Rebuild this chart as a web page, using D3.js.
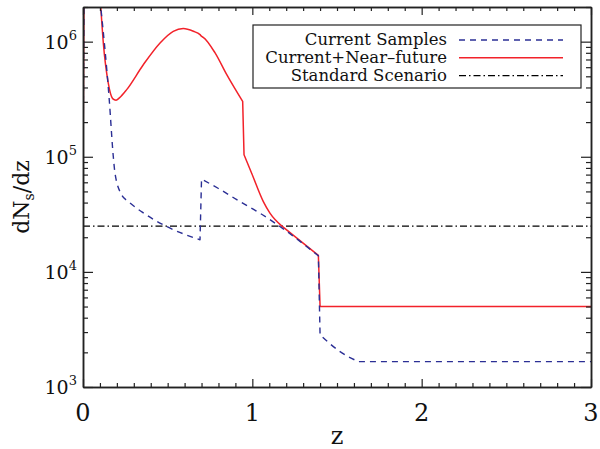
<!DOCTYPE html>
<html>
<head>
<meta charset="utf-8">
<script src="https://cdn.jsdelivr.net/npm/d3@7"></script>
<style>
  html, body { margin: 0; padding: 0; background: #fff; }
  svg { display: block; }
  text { font-family: "DejaVu Serif", serif; fill: #111; }
</style>
</head>
<body>
<svg id="chart" width="600" height="449"></svg>
<script>
// Redshift distribution dN_s/dz for three sample scenarios.
const currentZ = [0, 0.006, 0.095, 0.105, 0.155, 0.179, 0.189, 0.228, 0.268, 0.35, 0.494, 0.691, 0.70, 0.80, 0.927, 1.05, 1.163, 1.39, 1.40, 1.518, 1.626, 3.0];
const currentN = [8.0e4, 3e6, 3e6, 2.0e6, 3.13e5, 1.0e5, 7.2e4, 4.68e4, 4.08e4, 3.3e4, 2.48e4, 1.9e4, 6.4e4, 5.3e4, 4.08e4, 3.2e4, 2.48e4, 1.38e4, 2.83e3, 2.03e3, 1.66e3, 1.66e3];

const nearZ = [0, 0.006, 0.095, 0.105, 0.12, 0.149, 0.175, 0.195, 0.215, 0.258, 0.356, 0.455, 0.533, 0.592, 0.652, 0.691, 0.701, 0.71, 0.78, 0.849, 0.943, 0.951, 0.996, 1.065, 1.104, 1.173, 1.39, 1.40, 3.0];
const nearN = [8.0e4, 3e6, 3e6, 2.0e6, 9.75e5, 4.38e5, 3.2e5, 3.1e5, 3.25e5, 3.83e5, 6.3e5, 9.75e5, 1.23e6, 1.30e6, 1.23e6, 1.15e6, 1.11e6, 1.09e6, 7.98e5, 5.16e5, 3.02e5, 1.04e5, 7.2e4, 4.08e4, 3.24e4, 2.51e4, 1.39e4, 5.0e3, 5.0e3];

const standardZ = [0, 3];
const standardN = [2.5e4, 2.5e4];

const xTicks = [0, 1, 2, 3];
const yTickExponents = [3, 4, 5, 6];
const legendLabels = ["Current Samples", "Current+Near\u2013future", "Standard Scenario"];

const W = 600, H = 449;
const margin = { left: 83, right: 9, top: 7, bottom: 62 };
const svg = d3.select("#chart");

const x = d3.scaleLinear().domain([0, 3]).range([margin.left, W - margin.right]);
const y = d3.scaleLog().domain([1e3, 2e6]).range([H - margin.bottom, margin.top]);

const x0 = x.range()[0], x1 = x.range()[1];
const y0 = y.range()[0], y1 = y.range()[1];

svg.append("defs").append("clipPath").attr("id", "plot-clip")
  .append("rect").attr("x", x0).attr("y", y1).attr("width", x1 - x0).attr("height", y0 - y1);

// Each curve is built from pieces: smooth stretches and sharp jumps.
// [startIndex, endIndex, smooth?]
const series = [
  { z: standardZ, n: standardN, color: "#000", dash: "7,3,1.5,3", width: 1.1,
    pieces: [[0, 1, false]] },
  { z: nearZ, n: nearN, color: "#f2222a", dash: null, width: 1.5,
    pieces: [[0, 3, false], [3, 20, true], [20, 21, false], [21, 25, true], [25, 28, false]] },
  { z: currentZ, n: currentN, color: "#2b2f95", dash: "6,5", width: 1.4,
    pieces: [[0, 3, false], [3, 11, true], [11, 12, false], [12, 17, true], [17, 18, false], [18, 20, true], [20, 21, false]] }
];

function piecewisePath(s) {
  const pts = d3.zip(s.z, s.n);
  let d = "";
  s.pieces.forEach(([a, b, smooth], k) => {
    const gen = d3.line().x(p => x(p[0])).y(p => y(p[1]))
      .curve(smooth ? d3.curveMonotoneX : d3.curveLinear);
    let seg = gen(pts.slice(a, b + 1));
    if (k > 0) seg = seg.replace(/^M[^A-Za-z]*/, "");
    d += seg;
  });
  return d;
}

const plot = svg.append("g").attr("clip-path", "url(#plot-clip)");
series.forEach(s => {
  plot.append("path")
    .attr("d", piecewisePath(s))
    .attr("fill", "none")
    .attr("stroke", s.color)
    .attr("stroke-width", s.width)
    .attr("stroke-linejoin", "round")
    .attr("stroke-dasharray", s.dash);
});

// Axes frame with inward ticks on all four sides
const axisColor = "#222";
const minorX = d3.range(0, 31).map(i => i / 10).filter(v => !xTicks.includes(v));
const majorY = yTickExponents.map(e => Math.pow(10, e));
const minorY = [];
for (let e = 3; e <= 6; e++) for (let m = 2; m <= 9; m++) {
  const v = m * Math.pow(10, e);
  if (v <= 2e6) minorY.push(v);
}

function styleAxis(g) {
  g.selectAll("path").attr("stroke", axisColor).attr("stroke-width", 1.5);
  g.selectAll("line").attr("stroke", axisColor).attr("stroke-width", 1.2);
}

const axes = [
  [d3.axisBottom(x).tickValues(xTicks).tickSizeInner(-8), `translate(0,${y0})`],
  [d3.axisBottom(x).tickValues(minorX).tickSizeInner(-4), `translate(0,${y0})`],
  [d3.axisTop(x).tickValues(xTicks).tickSizeInner(-8), `translate(0,${y1})`],
  [d3.axisTop(x).tickValues(minorX).tickSizeInner(-4), `translate(0,${y1})`],
  [d3.axisLeft(y).tickValues(majorY).tickSizeInner(-10), `translate(${x0},0)`],
  [d3.axisLeft(y).tickValues(minorY).tickSizeInner(-5), `translate(${x0},0)`],
  [d3.axisRight(y).tickValues(majorY).tickSizeInner(-10), `translate(${x1},0)`],
  [d3.axisRight(y).tickValues(minorY).tickSizeInner(-5), `translate(${x1},0)`]
];
axes.forEach(([ax, tr]) => {
  svg.append("g").attr("transform", tr)
    .call(ax.tickFormat("").tickSizeOuter(0))
    .call(styleAxis);
});

// Tick labels
svg.append("g").selectAll("text").data(xTicks).join("text")
  .attr("x", d => x(d)).attr("y", y0 + 34)
  .attr("text-anchor", "middle")
  .style("font-size", "24px")
  .text(d => d);

const yLab = svg.append("g").selectAll("text").data(yTickExponents).join("text")
  .attr("x", x0 - 6).attr("y", d => y(Math.pow(10, d)) + 7)
  .attr("text-anchor", "end")
  .style("font-size", "19px");
yLab.append("tspan").text("10");
yLab.append("tspan").attr("dy", -9).style("font-size", "13px").text(d => d);

// Axis titles
svg.append("text")
  .attr("x", (x0 + x1) / 2).attr("y", 444)
  .attr("text-anchor", "middle")
  .style("font-size", "24px")
  .text("z");

const yt = svg.append("text")
  .attr("transform", `translate(29,${(y0 + y1) / 2}) rotate(-90)`)
  .attr("text-anchor", "middle")
  .style("font-size", "22px");
yt.append("tspan").text("dN");
yt.append("tspan").attr("dy", 5).style("font-size", "14px").text("s");
yt.append("tspan").attr("dy", -5).text("/dz");

// Legend
const legend = svg.append("g");
legend.append("rect")
  .attr("x", 253).attr("y", 25).attr("width", 328).attr("height", 63)
  .attr("fill", "#fff").attr("stroke", "#222").attr("stroke-width", 1.2);

const legendSeries = [series[2], series[1], series[0]];
legendLabels.forEach((lab, i) => {
  const cy = 40 + i * 17.8;
  legend.append("text")
    .attr("x", 447).attr("y", cy + 5)
    .attr("text-anchor", "end")
    .style("font-size", "16.5px")
    .text(lab);
  const s = legendSeries[i];
  legend.append("line")
    .attr("x1", 459).attr("x2", 563).attr("y1", cy).attr("y2", cy)
    .attr("stroke", s.color).attr("stroke-width", s.width)
    .attr("stroke-dasharray", s.dash);
});
</script>
</body>
</html>
